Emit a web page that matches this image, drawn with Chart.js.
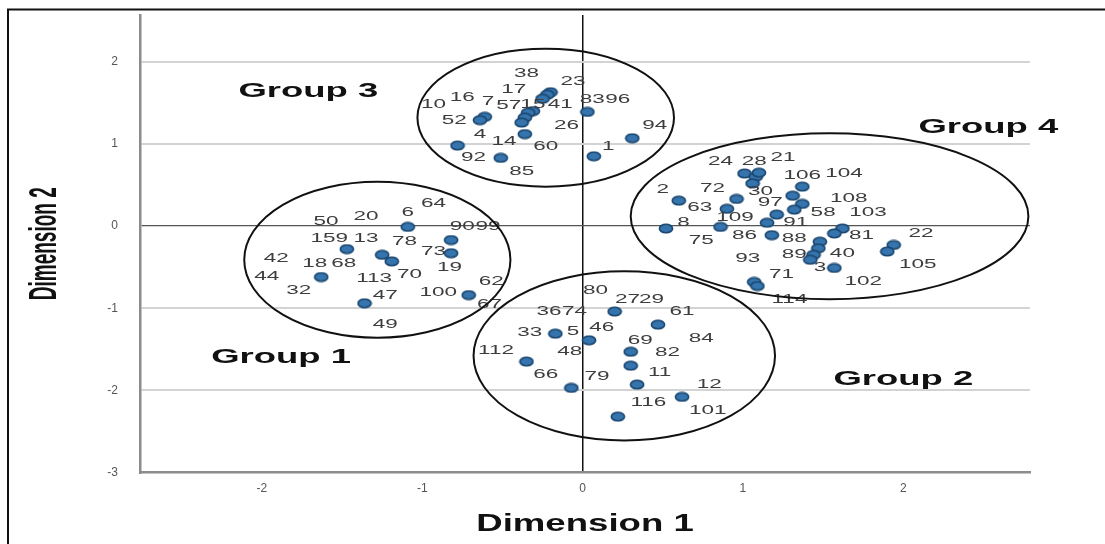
<!DOCTYPE html>
<html>
<head>
<meta charset="utf-8">
<script src="https://cdn.jsdelivr.net/npm/chart.js@4.4.1/dist/chart.umd.min.js"></script>
<style>
html, body { margin: 0; padding: 0; background: #fff; }
#wrap { width: 1105px; height: 544px; }
</style>
</head>
<body>
<div id="wrap"><canvas id="myChart" width="1105" height="544"></canvas></div>
<script>
'use strict';
// axis ticks
const xTicks = [-2, -1, 0, 1, 2];
const yTicks = [-3, -2, -1, 0, 1, 2];

// object points (Dimension 1, Dimension 2)
const group1X = [-1.09, -0.82, -0.82, -1.47, -1.25, -1.19, -1.63, -1.36, -0.71];
const group1Y = [-0.01, -0.17, -0.33, -0.28, -0.35, -0.43, -0.62, -0.94, -0.84];

const group2X = [0.20, 0.47, -0.17, 0.04, 0.30, 0.30, -0.35, 0.34, -0.07, 0.62, 0.22];
const group2Y = [-1.04, -1.20, -1.31, -1.39, -1.53, -1.70, -1.65, -1.93, -1.97, -2.08, -2.32];

const group3X = [-0.20, -0.22, -0.25, -0.31, -0.34, -0.36, -0.38, -0.61, -0.64, -0.36, -0.78, -0.51, 0.03, 0.07, 0.31];
const group3Y = [1.63, 1.60, 1.55, 1.40, 1.38, 1.32, 1.26, 1.33, 1.29, 1.12, 0.98, 0.83, 1.39, 0.85, 1.07];

const group4X = [1.01, 1.08, 1.10, 1.06, 1.37, 0.60, 0.96, 0.90, 1.31, 1.37, 1.32, 1.21, 1.15, 0.52, 0.86, 1.18, 1.62, 1.57, 1.48, 1.47, 1.44, 1.42, 1.94, 1.90, 1.57, 1.07, 1.09];
const group4Y = [0.64, 0.60, 0.65, 0.52, 0.48, 0.31, 0.33, 0.21, 0.37, 0.27, 0.20, 0.14, 0.04, -0.03, -0.01, -0.11, -0.03, -0.09, -0.19, -0.27, -0.35, -0.41, -0.23, -0.31, -0.51, -0.68, -0.73];

// case numbers [text, x, y] in data units
const group1Labels = [['64',-0.93,0.28],['50',-1.60,0.06],['20',-1.35,0.12],['6',-1.09,0.16],['90',-0.75,-0.01],['99',-0.59,-0.01],
  ['159',-1.58,-0.15],['13',-1.35,-0.15],['78',-1.11,-0.19],['73',-0.93,-0.31],['42',-1.91,-0.39],['18',-1.67,-0.45],['68',-1.49,-0.45],
  ['19',-0.83,-0.51],['44',-1.97,-0.62],['113',-1.30,-0.64],['70',-1.08,-0.59],['32',-1.77,-0.78],['62',-0.57,-0.68],['100',-0.90,-0.81],
  ['47',-1.23,-0.84],['67',-0.58,-0.96],['49',-1.23,-1.20]];
const group2Labels = [['80',0.08,-0.78],['27',0.28,-0.90],['29',0.43,-0.90],['36',-0.21,-1.04],['74',-0.05,-1.04],['61',0.62,-1.04],
  ['33',-0.33,-1.30],['5',-0.06,-1.29],['46',0.12,-1.24],['84',0.74,-1.37],['69',0.36,-1.39],['112',-0.54,-1.51],['48',-0.08,-1.53],
  ['82',0.53,-1.54],['11',0.48,-1.78],['66',-0.23,-1.81],['79',0.09,-1.83],['12',0.79,-1.93],['116',0.41,-2.15],['101',0.78,-2.24]];
const group3Labels = [['38',-0.35,1.86],['23',-0.06,1.76],['17',-0.43,1.66],['10',-0.93,1.48],['16',-0.75,1.56],['7',-0.59,1.52],
  ['57',-0.46,1.47],['15',-0.31,1.48],['41',-0.14,1.48],['83',0.06,1.54],['96',0.22,1.54],['52',-0.80,1.29],['26',-0.10,1.22],
  ['94',0.45,1.22],['4',-0.64,1.11],['14',-0.49,1.03],['60',-0.23,0.97],['1',0.16,0.97],['92',-0.68,0.83],['85',-0.38,0.66]];
const group4Labels = [['24',0.86,0.79],['28',1.07,0.79],['21',1.25,0.83],['106',1.37,0.62],['104',1.63,0.64],['2',0.50,0.44],
  ['72',0.81,0.46],['30',1.11,0.42],['108',1.66,0.34],['63',0.73,0.22],['97',1.17,0.29],['109',0.95,0.10],['58',1.50,0.16],
  ['103',1.78,0.16],['8',0.63,0.04],['91',1.33,0.04],['75',0.74,-0.17],['86',1.01,-0.11],['88',1.32,-0.15],['81',1.74,-0.11],
  ['22',2.11,-0.09],['93',1.03,-0.39],['89',1.32,-0.35],['40',1.62,-0.33],['105',2.09,-0.47],['3',1.48,-0.51],['71',1.24,-0.59],
  ['102',1.75,-0.68],['114',1.29,-0.90]];

// group names and the rings round them (data units)
const groupNames = ['Group 1', 'Group 2', 'Group 3', 'Group 4'];
const groupNameAt = [[-1.88,-1.67],[2.00,-1.93],[-1.71,1.57],[2.53,1.13]];
const groupRings = [[-1.28,-0.41,0.83,0.95],[0.26,-1.58,0.94,1.03],[-0.23,1.32,0.80,0.84],[1.54,0.12,1.24,1.01]];

// little stretched dot like the SPSS marker
const dot = document.createElement('canvas');
dot.width = 16; dot.height = 11;
const dc = dot.getContext('2d');
dc.beginPath();
dc.ellipse(8, 5.5, 6.6, 4.2, 0, 0, Math.PI * 2);
dc.fillStyle = '#3574ad';
dc.fill();
dc.lineWidth = 1.6;
dc.strokeStyle = '#1a466f';
dc.stroke();

function toPoints(xs, ys) {
  return xs.map((v, i) => ({x: v, y: ys[i]}));
}

// text is wide in the picture, so draw it stretched
function wideText(ctx, text, px, py, font, sx, color, baseline) {
  ctx.save();
  ctx.translate(px, py);
  ctx.scale(sx, 1);
  ctx.font = font;
  ctx.fillStyle = color;
  ctx.textAlign = 'center';
  ctx.textBaseline = baseline || 'middle';
  ctx.fillText(text, 0, 0);
  ctx.restore();
}

const sketchPlugin = {
  id: 'sketch',
  beforeDraw(chart) {
    const ctx = chart.ctx;
    ctx.save();
    ctx.fillStyle = '#fff';
    ctx.fillRect(0, 0, chart.width, chart.height);
    ctx.strokeStyle = '#111';
    ctx.lineWidth = 2;
    ctx.beginPath();
    ctx.moveTo(8, chart.height);
    ctx.lineTo(8, 9.5);
    ctx.lineTo(chart.width, 9.5);
    ctx.stroke();
    ctx.restore();
  },
  afterDatasetsDraw(chart) {
    const ctx = chart.ctx;
    const x = chart.scales.x, y = chart.scales.y;
    [group1Labels, group2Labels, group3Labels, group4Labels].forEach(list => {
      list.forEach(l => {
        wideText(ctx, l[0], x.getPixelForValue(l[1]), y.getPixelForValue(l[2]), '12.5px "Liberation Sans", Arial', 1.8, '#3d3d3d');
      });
    });
    ctx.save();
    ctx.strokeStyle = '#111';
    ctx.lineWidth = 2;
    groupRings.forEach(r => {
      const cx = x.getPixelForValue(r[0]), cy = y.getPixelForValue(r[1]);
      const rx = Math.abs(x.getPixelForValue(r[0] + r[2]) - cx);
      const ry = Math.abs(y.getPixelForValue(r[1] + r[3]) - cy);
      ctx.beginPath();
      ctx.ellipse(cx, cy, rx, ry, 0, 0, Math.PI * 2);
      ctx.stroke();
    });
    ctx.restore();
    groupNames.forEach((g, i) => {
      wideText(ctx, g, x.getPixelForValue(groupNameAt[i][0]), y.getPixelForValue(groupNameAt[i][1]),
        'bold 19.5px "Liberation Sans", Arial', 1.87, '#111', 'alphabetic');
    });
  },
  afterDraw(chart) {
    const ctx = chart.ctx;
    const a = chart.chartArea;
    // axis titles
    wideText(ctx, 'Dimension 1', (a.left + a.right) / 2, 531, 'bold 23px "Liberation Sans", Arial', 1.59, '#111', 'alphabetic');
    ctx.save();
    ctx.translate(55.5, (a.top + a.bottom) / 2);
    ctx.scale(2.06, 1);
    ctx.rotate(-Math.PI / 2);
    ctx.font = 'bold 19px "Liberation Sans", Arial';
    ctx.fillStyle = '#111';
    ctx.textAlign = 'center';
    ctx.textBaseline = 'alphabetic';
    ctx.fillText('Dimension 2', 0, 0);
    ctx.restore();
  }
};

const tickFont = {family: '"Liberation Sans", Arial', size: 12};

let ctx = document.getElementById('myChart').getContext('2d');
let myChart = new Chart(ctx, {
  type: 'scatter',
  data: {
    datasets: [
      {label: groupNames[0], data: toPoints(group1X, group1Y), pointStyle: dot, pointRadius: 6},
      {label: groupNames[1], data: toPoints(group2X, group2Y), pointStyle: dot, pointRadius: 6},
      {label: groupNames[2], data: toPoints(group3X, group3Y), pointStyle: dot, pointRadius: 6},
      {label: groupNames[3], data: toPoints(group4X, group4Y), pointStyle: dot, pointRadius: 6}
    ]
  },
  options: {
    responsive: false,
    animation: false,
    events: [],
    layout: {padding: {top: 15, right: 75, left: 0, bottom: 0}},
    plugins: {
      legend: {display: false},
      tooltip: {enabled: false}
    },
    scales: {
      x: {
        type: 'linear',
        min: -2.76,
        max: 2.79,
        afterBuildTicks: s => { s.ticks = xTicks.map(v => ({value: v})); },
        afterFit: s => { s.height = 71.5; s.paddingLeft = 0; s.paddingRight = 0; },
        grid: {
          drawTicks: false,
          color: c => (c.tick && c.tick.value === 0) ? '#111' : 'rgba(0,0,0,0)',
          lineWidth: c => (c.tick && c.tick.value === 0) ? 1.5 : 1
        },
        border: {display: true, color: '#8c8c8c', width: 2.5},
        ticks: {padding: 9, color: '#555', font: tickFont}
      },
      y: {
        type: 'linear',
        min: -3,
        max: 2.57,
        afterBuildTicks: s => { s.ticks = yTicks.map(v => ({value: v})); },
        afterFit: s => { s.width = 140; s.paddingTop = 0; s.paddingBottom = 0; },
        grid: {
          drawTicks: false,
          color: c => {
            if (!c.tick) return 'rgba(0,0,0,0)';
            if (c.tick.value === 0) return '#555';
            if (c.tick.value === -3) return 'rgba(0,0,0,0)';
            return '#d3d3d3';
          },
          lineWidth: c => (c.tick && c.tick.value === 0) ? 1.2 : 2
        },
        border: {display: true, color: '#8c8c8c', width: 2.5},
        ticks: {padding: 22, color: '#555', font: tickFont}
      }
    }
  },
  plugins: [sketchPlugin]
});
</script>
</body>
</html>
